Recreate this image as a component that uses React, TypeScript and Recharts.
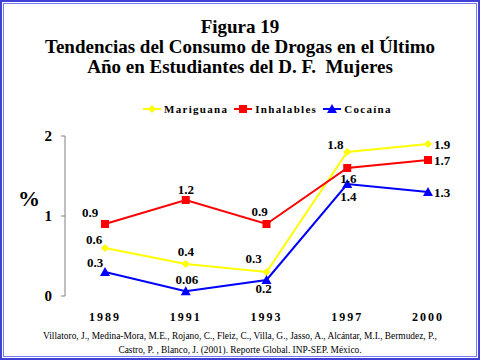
import React from 'react'
import { LineChart, Line, XAxis, YAxis, LabelList } from 'recharts'

const years = ['1989', '1991', '1993', '1997', '2000']
const mariguana = [0.6, 0.4, 0.3, 1.8, 1.9]
const inhalables = [0.9, 1.2, 0.9, 1.6, 1.7]
const cocaina = [0.3, 0.06, 0.2, 1.4, 1.3]
const yTicks = [0, 1, 2]
const bandTicks = [0, 1, 2, 3, 4, 5]

const data = years.map((year, i) => ({
  year,
  band: i + 0.5,
  mariguana: mariguana[i],
  inhalables: inhalables[i],
  cocaina: cocaina[i],
}))

const serif = '"Liberation Serif", "Times New Roman", serif'

// label offsets (dx, dy) from each point, per series
const mariguanaLabelPos = [[-11, -9], [0, -13], [-13, -14], [-12, -8], [14, 0]]
const inhalablesLabelPos = [[-15, -12], [0, -11], [-7, -13], [1, 10], [14, 0]]
const cocainaLabelPos = [[-10, -10], [1, -12], [-3, 8], [1, 12], [14, 0]]

type Shape = 'diamond' | 'square' | 'triangle'

const series: { key: string; name: string; color: string; shape: Shape; labelPos: number[][] }[] = [
  { key: 'mariguana', name: 'Mariguana', color: '#ffff00', shape: 'diamond', labelPos: mariguanaLabelPos },
  { key: 'inhalables', name: 'Inhalables', color: '#ff0000', shape: 'square', labelPos: inhalablesLabelPos },
  { key: 'cocaina', name: 'Cocaína', color: '#0000ff', shape: 'triangle', labelPos: cocainaLabelPos },
]

function Marker({ cx, cy, shape, color }: { cx: number; cy: number; shape: Shape; color: string }) {
  if (shape === 'diamond') {
    return <polygon points={`${cx},${cy - 4} ${cx + 4},${cy} ${cx},${cy + 4} ${cx - 4},${cy}`} fill={color} />
  }
  if (shape === 'square') {
    return <rect x={cx - 4} y={cy - 4} width={8} height={8} fill={color} />
  }
  return <polygon points={`${cx},${cy - 5} ${cx + 5},${cy + 4} ${cx - 5},${cy + 4}`} fill={color} />
}

function makeLabel(pos: number[][]) {
  return (props: any) => {
    const { x, y, value, index } = props
    const [dx, dy] = pos[index] || [0, -10]
    return (
      <text
        x={x + dx}
        y={y + dy}
        textAnchor="middle"
        dominantBaseline="central"
        fontFamily={serif}
        fontWeight="bold"
        fontSize={13}
        fill="#000"
      >
        {value}
      </text>
    )
  }
}

function LegendRow() {
  return (
    <div
      style={{
        position: 'absolute',
        top: 103,
        left: 143,
        display: 'flex',
        gap: 6,
        fontFamily: serif,
        fontWeight: 'bold',
        fontSize: 11,
        letterSpacing: 1.3,
      }}
    >
      {series.map((s) => (
        <div key={s.key} style={{ display: 'flex', alignItems: 'center' }}>
          <svg width={18} height={12} style={{ marginRight: 3 }}>
            <line x1={0} y1={6} x2={18} y2={6} stroke={s.color} strokeWidth={2} />
            <Marker cx={9} cy={6} shape={s.shape} color={s.color} />
          </svg>
          <span>{s.name}</span>
        </div>
      ))}
    </div>
  )
}

export default function App() {
  return (
    <div
      style={{
        position: 'absolute',
        left: 0,
        top: 0,
        width: 480,
        height: 360,
        background: '#fff',
        overflow: 'hidden',
      }}
    >
      <div
        style={{
          position: 'absolute',
          inset: 0,
          border: '2px solid #4040d8',
        }}
      />
      <div
        style={{
          position: 'absolute',
          inset: 3,
          border: '1px solid #7a7aee',
        }}
      />
      <div
        style={{
          position: 'absolute',
          top: 17,
          left: 0,
          width: 480,
          textAlign: 'center',
          fontFamily: serif,
          fontWeight: 'bold',
          fontSize: 19,
          lineHeight: '20px',
          color: '#000',
        }}
      >
        <div>Figura 19</div>
        <div>Tendencias del Consumo de Drogas en el Último</div>
        <div>Año en Estudiantes del D. F.&nbsp; Mujeres</div>
      </div>
      <LegendRow />
      <div
        style={{
          position: 'absolute',
          left: 18,
          top: 186,
          fontFamily: serif,
          fontWeight: 'bold',
          fontSize: 22,
          color: '#000',
        }}
      >
        %
      </div>
      <div style={{ position: 'absolute', left: 0, top: 0 }}>
        <LineChart width={480} height={360} data={data} margin={{ top: 136, right: 12, bottom: 34, left: 5 }}>
          <XAxis
            dataKey="year"
            xAxisId="cat"
            axisLine={false}
            tickLine={false}
            interval={0}
            tickMargin={10}
            padding={{ left: 40, right: 40 }}
            tick={{ fontFamily: serif, fontWeight: 'bold', fontSize: 12, fill: '#000', letterSpacing: 2 }}
            height={30}
          />
          <XAxis
            xAxisId="band"
            dataKey="band"
            type="number"
            domain={[0, 5]}
            ticks={bandTicks}
            tick={false}
            tickSize={5}
            axisLine={{ stroke: '#808080', strokeWidth: 1 }}
            tickLine={{ stroke: '#808080' }}
            height={0}
          />
          <YAxis
            domain={[0, 2]}
            ticks={yTicks}
            width={60}
            tickSize={4}
            tickMargin={9}
            axisLine={{ stroke: '#808080' }}
            tickLine={{ stroke: '#808080' }}
            tick={{ fontFamily: serif, fontWeight: 'bold', fontSize: 15, fill: '#000' }}
          />
          {series.map((s) => (
            <Line
              key={s.key}
              xAxisId="cat"
              dataKey={s.key}
              name={s.name}
              stroke={s.color}
              strokeWidth={2}
              isAnimationActive={false}
              dot={(p: any) => <Marker key={`${s.key}-${p.index}`} cx={p.cx} cy={p.cy} shape={s.shape} color={s.color} />}
              activeDot={false}
            >
              <LabelList dataKey={s.key} content={makeLabel(s.labelPos)} />
            </Line>
          ))}
        </LineChart>
      </div>
      <div
        style={{
          position: 'absolute',
          top: 329,
          left: 0,
          width: 480,
          textAlign: 'center',
          fontFamily: serif,
          fontSize: 9.4,
          lineHeight: '14px',
          color: '#000',
        }}
      >
        <div>Villatoro, J., Medina-Mora, M.E., Rojano, C., Fleiz, C., Villa, G., Jasso, A., Alcántar, M.I., Bermudez, P.,</div>
        <div>Castro, P. , Blanco, J. (2001). Reporte Global. INP-SEP. México.</div>
      </div>
    </div>
  )
}
